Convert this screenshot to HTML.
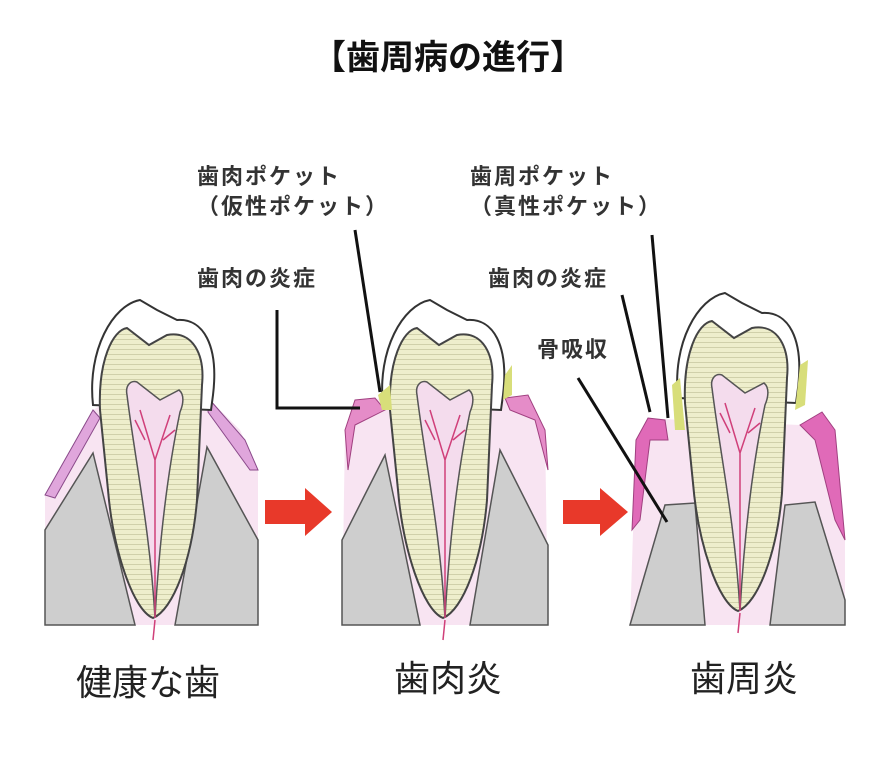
<!DOCTYPE html>
<html><head><meta charset="utf-8"><style>
body{margin:0;background:#fff;width:896px;height:758px;overflow:hidden;font-family:"Liberation Sans","Noto Sans CJK JP",sans-serif}
.t{position:absolute;white-space:nowrap;color:#222}
.s{font-size:22px;font-weight:bold;letter-spacing:2px;color:#333}
</style></head><body>
<svg width="896" height="758" style="position:absolute;left:0;top:0">
<defs>
<pattern id="st" width="6" height="5" patternUnits="userSpaceOnUse"><rect width="6" height="5" fill="#eeeecc"/><line x1="0" y1="4.5" x2="6" y2="4.5" stroke="#c9c9a2" stroke-width="0.8"/></pattern>
<g id="tooth">
<path d="M-62,105 C-68,50 -42,5 -15,0 L2,10 L22,20 C48,18 64,45 58,95 L56,110 Z" fill="#fff" stroke="#333" stroke-width="2"/>
<path d="M-55,110 C-57,60 -42,30 -28,28 L-6,45 L12,35 C38,30 50,55 47,85 L42,200 C37,260 18,310 -2,318 C-22,310 -42,250 -47,190 Z" fill="url(#st)" stroke="#444" stroke-width="2"/>
<path d="M-28,95 C-30,85 -24,80 -18,82 L5,100 L24,90 C30,95 28,105 25,112 C15,160 5,230 0,318 C-5,230 -20,160 -28,95 Z" fill="#f4dced" stroke="#555" stroke-width="1.5"/>
<path d="M0,318 L0,160 M0,160 L-15,110 M0,160 L15,115 M-10,140 L-20,120 M8,140 L20,130 M0,320 L-2,340" stroke="#d0407a" stroke-width="1.5" fill="none"/>
</g>
</defs>
<path d="M45,495 L93,410 L110,400 L210,400 L240,430 L258,470 L258,625 L45,625 Z" fill="#f8e4f2"/>
<path d="M45,625 L45,530 L93,453 L135,625 Z" fill="#cecece" stroke="#555" stroke-width="1.5"/>
<path d="M175,625 L207,447 L258,540 L258,625 Z" fill="#cecece" stroke="#555" stroke-width="1.5"/>
<path d="M45,495 L93,410 L100,418 L55,498 Z" fill="#e0a6dc" stroke="#8a4a8a" stroke-width="1"/>
<path d="M210,400 L245,440 L258,470 L250,470 L208,412 Z" fill="#e0a6dc" stroke="#8a4a8a" stroke-width="1"/>
<use href="#tooth" x="155" y="300"/>
<path d="M342,625 L345,430 L360,400 L385,398 L500,398 L530,405 L545,430 L548,625 Z" fill="#f8e4f2"/>
<path d="M342,625 L342,540 L385,455 L420,625 Z" fill="#cecece" stroke="#555" stroke-width="1.5"/>
<path d="M470,625 L500,450 L548,545 L548,625 Z" fill="#cecece" stroke="#555" stroke-width="1.5"/>
<path d="M345,430 L355,400 L375,398 L385,410 L355,425 L348,470 Z" fill="#e58cc8" stroke="#a04080" stroke-width="1"/>
<path d="M505,398 L528,395 L545,430 L548,470 L535,420 L510,410 Z" fill="#e58cc8" stroke="#a04080" stroke-width="1"/>
<use href="#tooth" x="445" y="300"/>
<path d="M378,395 L390,385 L392,410 L382,410 Z" fill="#d8de7a"/>
<path d="M505,375 L512,365 L512,395 L503,400 Z" fill="#d8de7a"/>
<path d="M630,625 L636,440 L648,418 L680,420 L800,425 L822,412 L835,430 L845,540 L845,625 Z" fill="#f8e4f2"/>
<path d="M630,625 L665,505 L695,503 L705,625 Z" fill="#cecece" stroke="#555" stroke-width="1.5"/>
<path d="M770,625 L785,505 L815,502 L845,600 L845,625 Z" fill="#cecece" stroke="#555" stroke-width="1.5"/>
<path d="M636,440 L648,418 L665,420 L668,440 L650,440 L640,520 L632,530 Z" fill="#e06ab8" stroke="#a04080" stroke-width="1"/>
<path d="M800,425 L822,412 L835,430 L845,540 L835,520 L815,440 Z" fill="#e06ab8" stroke="#a04080" stroke-width="1"/>
<use href="#tooth" x="740" y="293"/>
<path d="M672,385 L680,378 L685,430 L675,430 Z" fill="#d8de7a"/>
<path d="M800,365 L808,360 L805,405 L795,410 Z" fill="#d8de7a"/>
<path d="M265,500 L305,500 L305,488 L332,512 L305,536 L305,524 L265,524 Z" fill="#e8392a"/>
<path d="M563,500 L600,500 L600,488 L628,512 L600,536 L600,524 L563,524 Z" fill="#e8392a"/>
<g stroke="#111" stroke-width="3" fill="none">
<path d="M277,310 L277,408 L360,408"/>
<path d="M355,230 L380,392"/>
<path d="M652,235 L668,418"/>
<path d="M622,295 L650,412"/>
<path d="M578,378 L667,522"/>
</g>
</svg>
<div class="t" style="left:0;width:896px;text-align:center;top:30px;font-size:34px;font-weight:bold;color:#111">【歯周病の進行】</div>
<div class="t s" style="left:197px;top:162px;line-height:30px">歯肉ポケット<br>（仮性ポケット）</div>
<div class="t s" style="left:197px;top:261px">歯肉の炎症</div>
<div class="t s" style="left:470px;top:162px;line-height:30px">歯周ポケット<br>（真性ポケット）</div>
<div class="t s" style="left:488px;top:261px">歯肉の炎症</div>
<div class="t s" style="left:537px;top:332px">骨吸収</div>
<div class="t" style="left:76px;top:654px;font-size:36px">健康な歯</div>
<div class="t" style="left:394px;top:650px;font-size:36px">歯肉炎</div>
<div class="t" style="left:690px;top:650px;font-size:36px">歯周炎</div>
</body></html>
